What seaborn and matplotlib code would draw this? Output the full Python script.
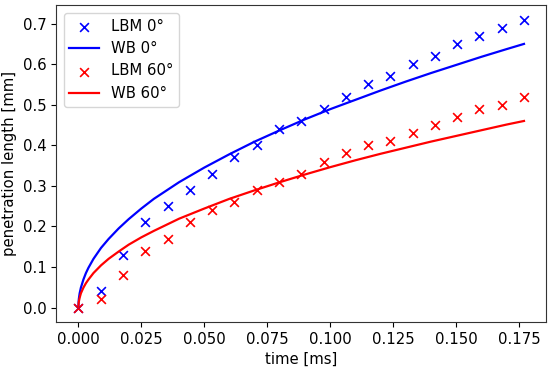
import numpy as np
import pandas as pd
import matplotlib
matplotlib.use("Agg")
import matplotlib.pyplot as plt
import seaborn as sns

# LBM simulation points
time_lbm = [0.0, 0.00885, 0.0177, 0.0266, 0.0354, 0.0443, 0.0531, 0.062, 0.0708,
            0.0797, 0.0885, 0.0974, 0.1062, 0.1151, 0.1239, 0.1328, 0.1416,
            0.1505, 0.1593, 0.1682, 0.177]
lbm_0 = [0.0, 0.04, 0.13, 0.21, 0.25, 0.29, 0.33, 0.37, 0.40, 0.44, 0.46, 0.49,
         0.52, 0.55, 0.57, 0.60, 0.62, 0.65, 0.67, 0.69, 0.71]
lbm_60 = [0.0, 0.02, 0.08, 0.14, 0.17, 0.21, 0.24, 0.26, 0.29, 0.31, 0.33, 0.36,
          0.38, 0.40, 0.41, 0.43, 0.45, 0.47, 0.49, 0.50, 0.52]

# WB curves
time_wb = [0.0, 0.0001, 0.0002, 0.0005, 0.001, 0.002, 0.003, 0.004, 0.006,
           0.009, 0.012, 0.016, 0.02, 0.025, 0.03, 0.04, 0.05, 0.06, 0.07,
           0.08, 0.09, 0.10, 0.11, 0.12, 0.13, 0.14, 0.15, 0.16, 0.17, 0.177]
wb_0 = [0.0, 0.015, 0.022, 0.035, 0.049, 0.069, 0.085, 0.098, 0.120, 0.147,
        0.169, 0.195, 0.218, 0.244, 0.268, 0.309, 0.345, 0.378, 0.409, 0.437,
        0.464, 0.489, 0.512, 0.535, 0.557, 0.578, 0.598, 0.618, 0.637, 0.650]
wb_60 = [0.0, 0.011, 0.015, 0.024, 0.035, 0.049, 0.060, 0.069, 0.085, 0.104,
         0.120, 0.138, 0.155, 0.173, 0.189, 0.219, 0.244, 0.268, 0.289, 0.309,
         0.328, 0.346, 0.363, 0.379, 0.394, 0.409, 0.423, 0.437, 0.451, 0.460]

plt.rcParams["font.size"] = 10.7

fig = plt.figure(figsize=(5.5, 3.7), dpi=100)
ax = fig.add_axes([0.102, 0.130, 0.891, 0.856])

sns.scatterplot(x=time_lbm, y=lbm_0, marker="x", color="#0000ff", s=40,
                linewidth=1.2, label="LBM 0°", ax=ax)
sns.lineplot(x=time_wb, y=wb_0, color="#0000ff", linewidth=1.6,
             label="WB 0°", ax=ax)
sns.scatterplot(x=time_lbm, y=lbm_60, marker="x", color="#ff0000", s=40,
                linewidth=1.2, label="LBM 60°", ax=ax)
sns.lineplot(x=time_wb, y=wb_60, color="#ff0000", linewidth=1.6,
             label="WB 60°", ax=ax)

ax.set_xlim(-0.00885, 0.1858)
ax.set_ylim(-0.0355, 0.7455)
ax.set_xticks([0.0, 0.025, 0.05, 0.075, 0.1, 0.125, 0.15, 0.175])
ax.set_xticklabels(["0.000", "0.025", "0.050", "0.075", "0.100", "0.125", "0.150", "0.175"])
ax.set_yticks([0.0, 0.1, 0.2, 0.3, 0.4, 0.5, 0.6, 0.7])
ax.set_xlabel("time [ms]")
ax.set_ylabel("penetration length [mm]")
for sp in ax.spines.values():
    sp.set_color("#333333")
ax.legend(loc="upper left")

fig.savefig("out.png", dpi=100)
